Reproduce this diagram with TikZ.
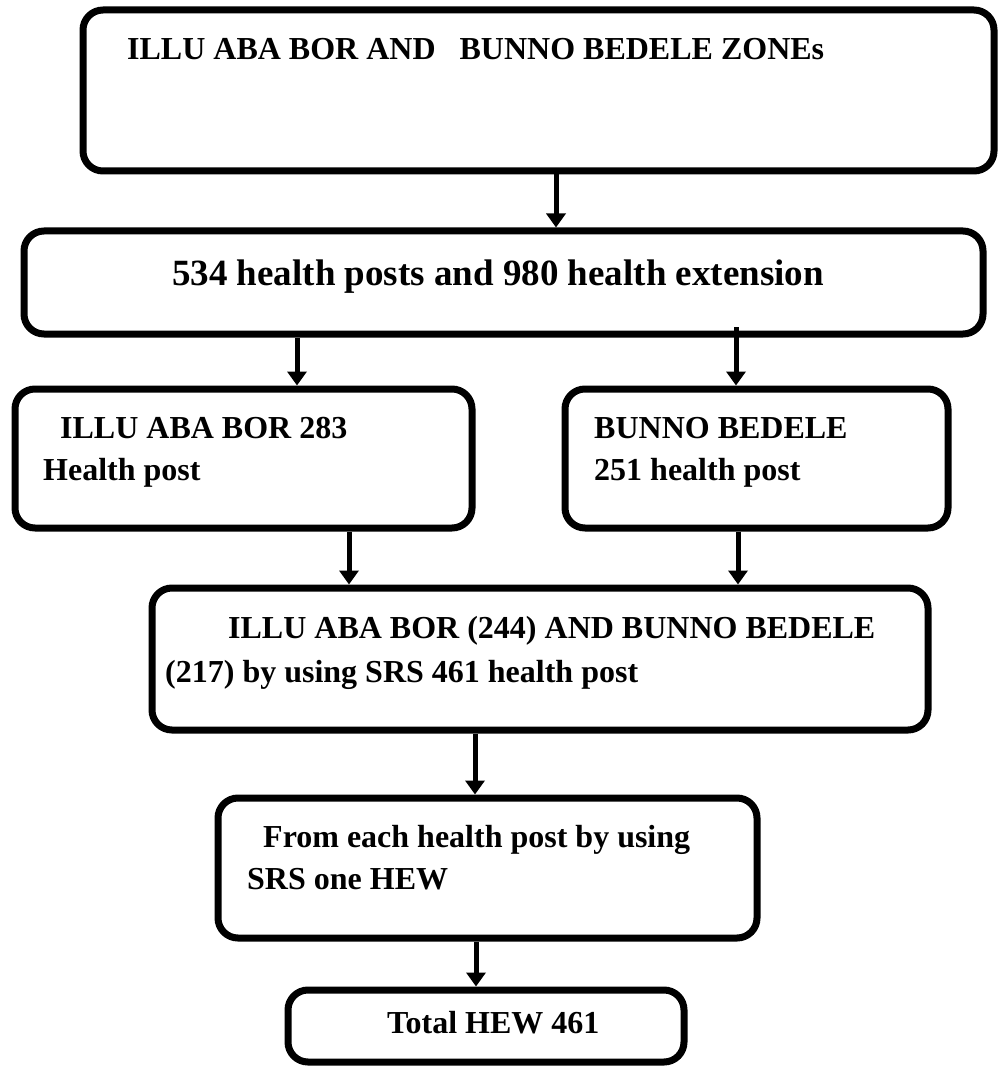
\documentclass[tikz,border=0pt]{standalone}
\usepackage{fontspec}
\setmainfont{Liberation Serif}
\usetikzlibrary{arrows.meta}
\tikzset{
  box/.style={draw=black, line width=7pt, rounded corners=20pt, inner sep=0pt, fill=none},
  arr/.style={draw=black, line width=5pt, -{Triangle[width=19pt,length=14pt]}},
  lbl/.style={anchor=base west, inner sep=0pt, font=\fontsize{32}{40}\selectfont\bfseries},
  biglbl/.style={anchor=base west, inner sep=0pt, font=\fontsize{37}{44}\selectfont\bfseries}
}
\begin{document}
\begin{tikzpicture}[x=1pt, y=-1pt]
\useasboundingbox (0,0) rectangle (997,1067);
% boxes
\node[box, minimum width=911pt, minimum height=161pt] (b1) at (538.5,90.5) {};
\node[box, minimum width=959pt, minimum height=103pt] (b2) at (503.5,282.5) {};
\node[box, minimum width=457pt, minimum height=139pt] (b3) at (243.5,458.5) {};
\node[box, minimum width=383pt, minimum height=139pt] (b4) at (756.5,458.5) {};
\node[box, minimum width=776pt, minimum height=142pt] (b5) at (540,659) {};
\node[box, minimum width=539pt, minimum height=140pt] (b6) at (487.5,868) {};
\node[box, minimum width=396pt, minimum height=72pt] (b7) at (486,1026) {};
% texts
\node[lbl] (t1) at (127,60) {ILLU ABA BOR AND~~~BUNNO BEDELE ZONEs};
\node[biglbl] (t2) at (172,285) {534 health posts and 980 health extension};
\node[lbl] (t3a) at (60,438) {ILLU ABA BOR 283};
\node[lbl] (t3b) at (43,480) {Health post};
\node[lbl] (t4a) at (594,438) {BUNNO BEDELE};
\node[lbl] (t4b) at (594,480) {251 health post};
\node[lbl] (t5a) at (228,638) {ILLU ABA BOR (244) AND BUNNO BEDELE};
\node[lbl] (t5b) at (165,682) {(217) by using SRS 461 health post};
\node[lbl] (t6a) at (263,847) {From each health post by using};
\node[lbl] (t6b) at (247,889) {SRS one HEW};
\node[lbl] (t7) at (387,1033) {Total HEW 461};
% arrows
\draw[arr] ([xshift=17.5pt]b1.south) -- ([xshift=52.5pt]b2.north);
\draw[arr] ([xshift=-206.5pt]b2.south) -- ([xshift=53.5pt]b3.north);
\draw[arr] ([xshift=232.5pt,yshift=10.5pt]b2.south) -- ([xshift=-20.5pt]b4.north);
\draw[arr] ([xshift=105.5pt]b3.south) -- ([xshift=-191pt]b5.north);
\draw[arr] ([xshift=-18.5pt]b4.south) -- ([xshift=198pt]b5.north);
\draw[arr] ([xshift=-65pt]b5.south) -- ([xshift=-12.5pt]b6.north);
\draw[arr] ([xshift=-11.5pt]b6.south) -- ([xshift=-10pt]b7.north);
\end{tikzpicture}
\end{document}
